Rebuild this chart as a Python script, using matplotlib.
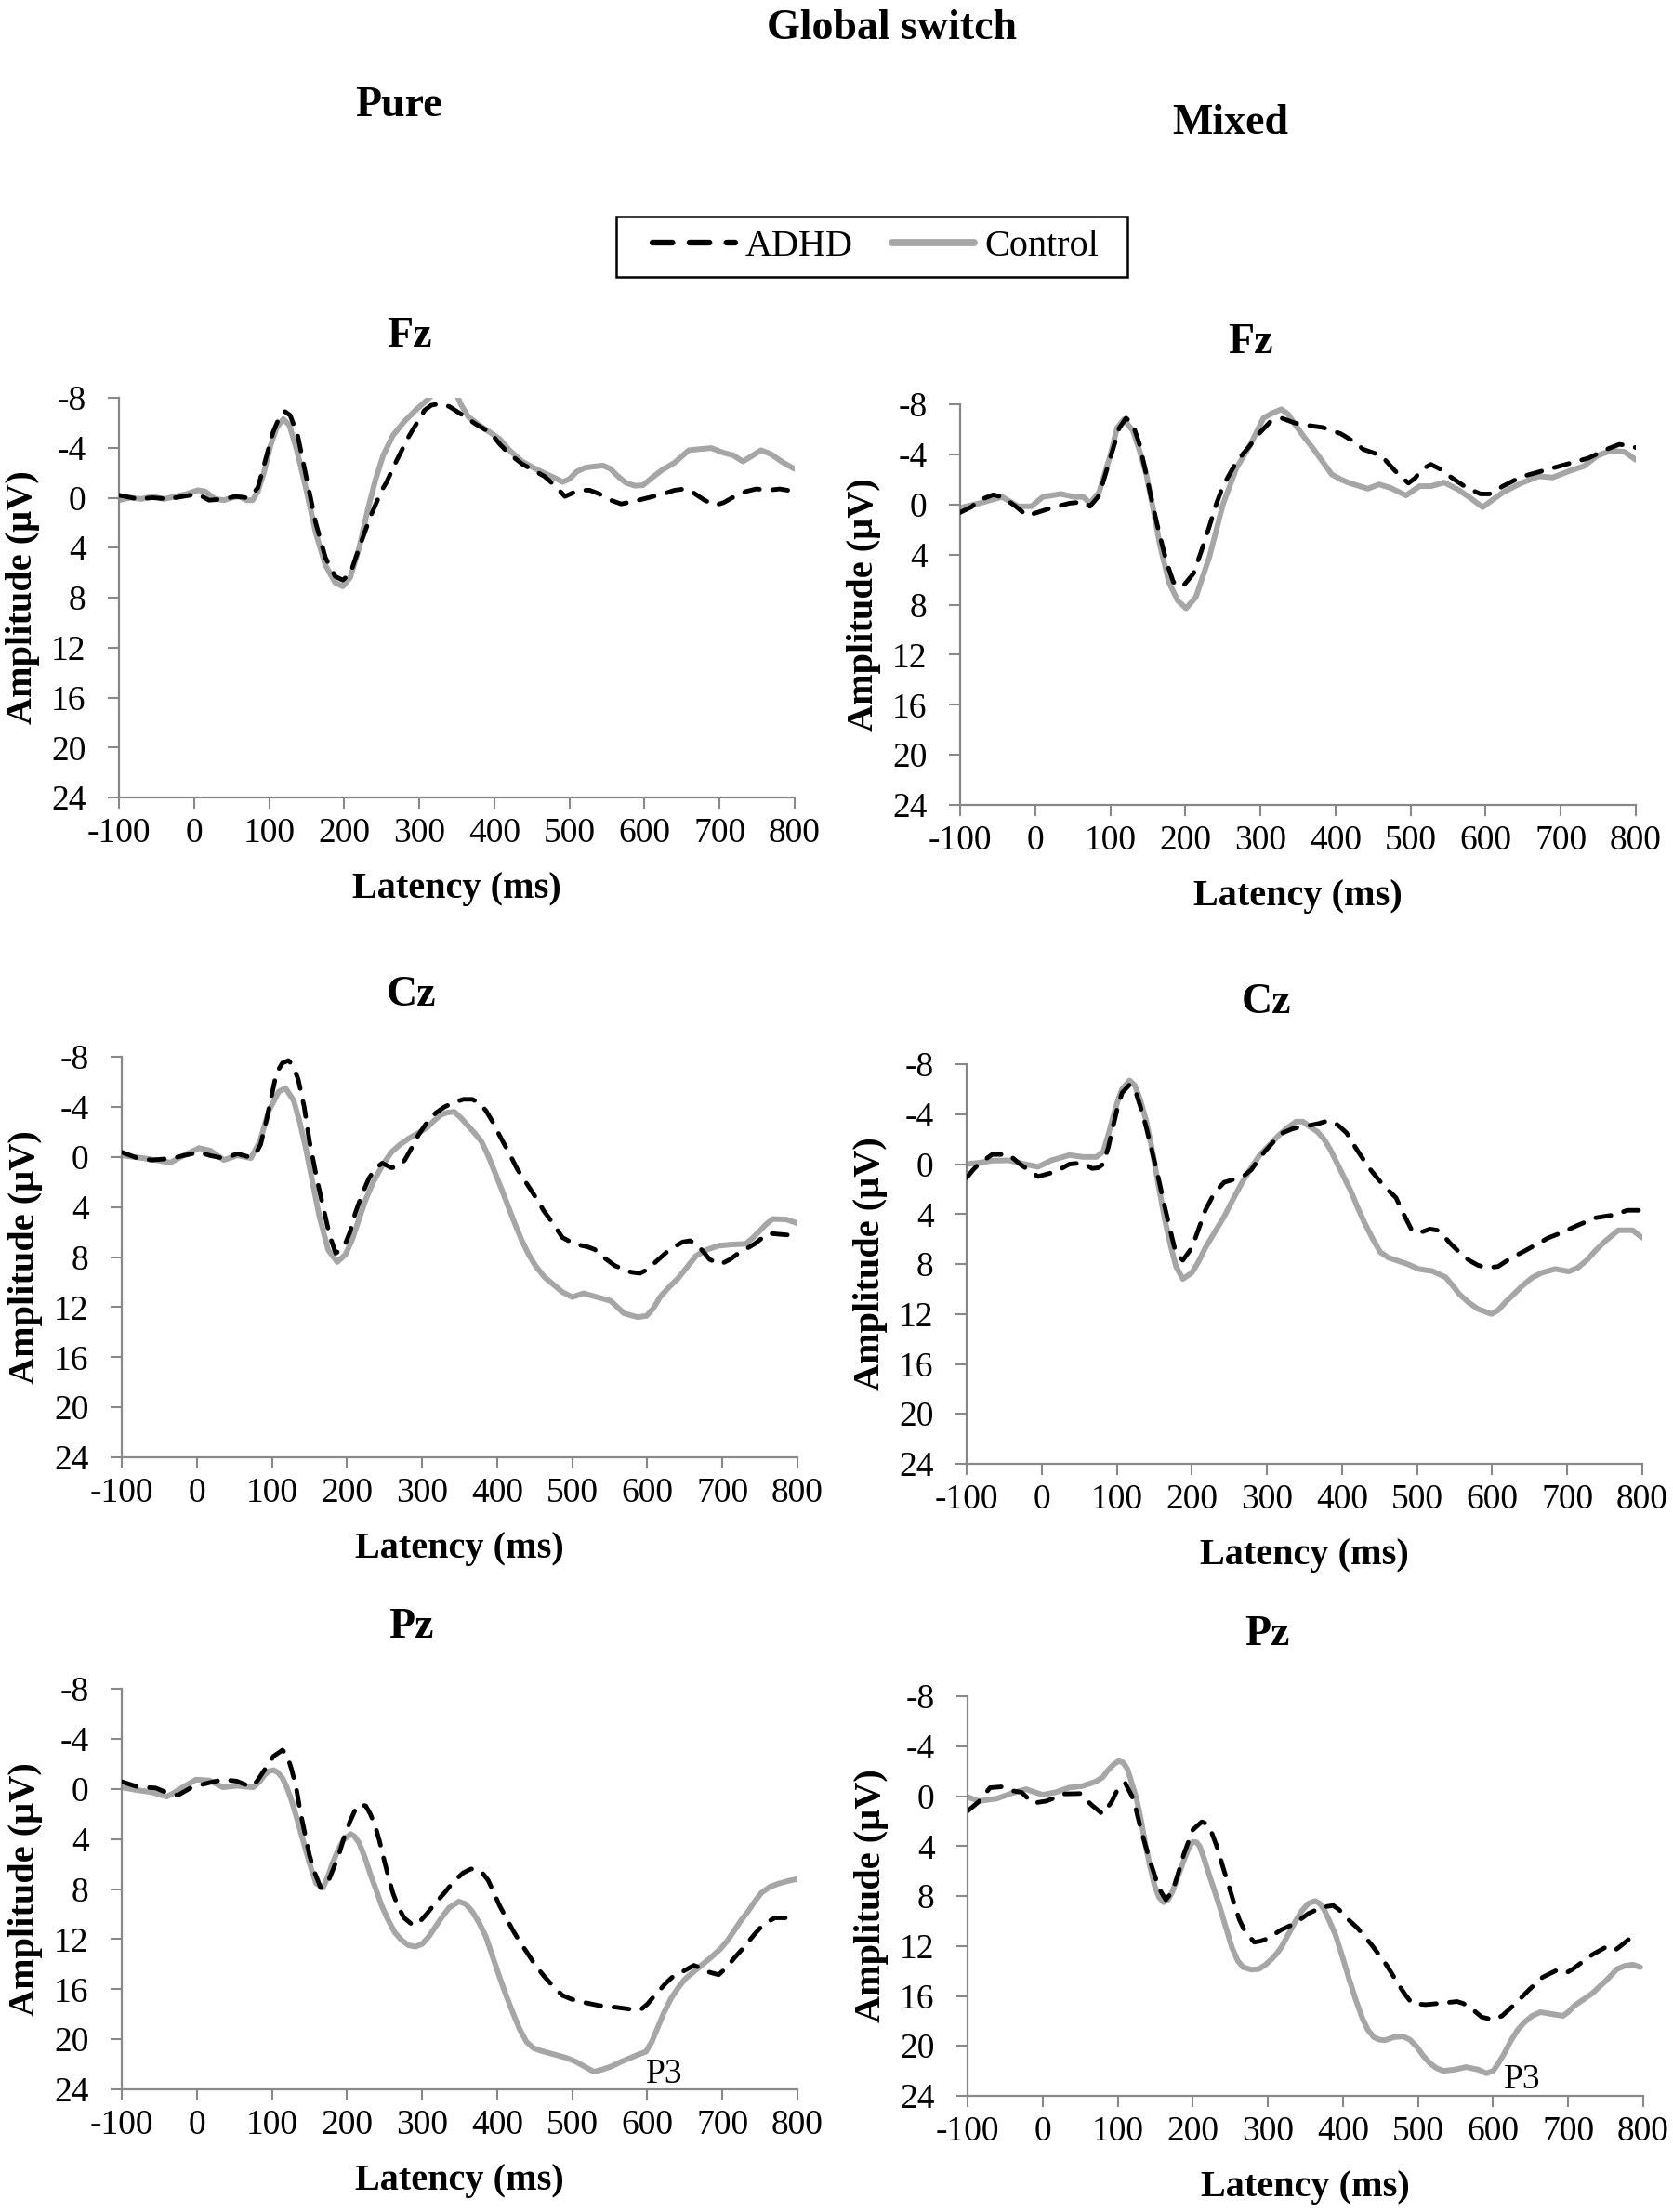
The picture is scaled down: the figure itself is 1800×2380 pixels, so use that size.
import matplotlib
matplotlib.use("Agg")
import matplotlib.pyplot as plt
from matplotlib.patches import Rectangle

plt.rcParams['font.family'] = ['Liberation Serif', 'DejaVu Serif']
plt.rcParams['axes.unicode_minus'] = False

# ---------------- data (latency ms, amplitude µV) ----------------
pure_fz_adhd_t = [-100, -75, -55, -35, -15, 5, 20, 40, 55, 70, 78, 85, 95, 105, 114, 121, 128, 138, 150, 162, 175, 188, 198, 208, 220, 235, 250, 256, 270, 286, 300, 307, 316, 325, 340, 358, 375, 395, 407, 420, 437, 452, 467, 480, 494, 505, 515, 527, 540, 555, 569, 585, 605, 625, 640, 653, 665, 680, 694, 705, 720, 735, 749, 765, 780, 800]
pure_fz_adhd_v = [-0.2, 0.1, 0.0, 0.1, -0.1, -0.3, 0.2, 0.1, -0.1, 0.0, -0.3, -0.8, -3.0, -5.2, -6.5, -6.9, -6.6, -5.0, -1.5, 2.0, 4.8, 6.3, 6.6, 6.1, 4.0, 1.5, -0.6, -1.2, -3.0, -4.9, -6.3, -7.0, -7.4, -7.5, -7.3, -6.6, -5.9, -5.2, -4.3, -3.5, -2.7, -2.2, -1.7, -1.0, -0.1, -0.4, -0.6, -0.6, -0.3, 0.2, 0.5, 0.3, 0.0, -0.3, -0.6, -0.7, -0.4, 0.2, 0.6, 0.4, -0.1, -0.5, -0.7, -0.6, -0.7, -0.5]
pure_fz_ctrl_t = [-100, -85, -70, -55, -40, -25, -10, 5, 15, 28, 40, 50, 60, 70, 78, 85, 93, 102, 110, 119, 127, 137, 150, 162, 175, 188, 198, 208, 220, 232, 242, 252, 265, 280, 295, 310, 320, 335, 348, 356, 365, 380, 395, 407, 420, 437, 452, 467, 480, 491, 500, 510, 521, 533, 545, 555, 563, 575, 587, 598, 610, 623, 640, 659, 675, 689, 705, 718, 731, 742, 755, 768, 785, 800]
pure_fz_ctrl_v = [0.2, 0.0, 0.1, -0.1, 0.1, -0.1, -0.3, -0.6, -0.5, 0.1, 0.2, 0.0, -0.1, 0.2, 0.2, -0.5, -2.0, -4.2, -5.6, -6.3, -5.8, -3.8, -0.5, 2.8, 5.4, 6.8, 7.1, 6.4, 4.0, 0.8, -1.5, -3.4, -5.0, -6.1, -7.0, -7.8, -8.4, -9.0, -8.5, -7.4, -6.5, -5.8, -5.2, -4.7, -3.8, -2.9, -2.4, -1.95, -1.6, -1.26, -1.5, -2.1, -2.4, -2.5, -2.57, -2.3, -1.8, -1.2, -0.96, -1.0, -1.6, -2.2, -2.8, -3.8, -3.9, -3.97, -3.6, -3.4, -2.9, -3.3, -3.8, -3.5, -2.8, -2.3]

mixed_fz_adhd_t = [-100, -85, -74, -56, -44, -26, -11, 5, 22, 46, 64, 73, 85, 100, 112, 121, 130, 139, 148, 157, 166, 175, 184, 196, 211, 222, 232, 241, 250, 268, 286, 298, 313, 328, 346, 365, 383, 407, 425, 437, 461, 479, 497, 506, 515, 527, 540, 551, 563, 575, 593, 605, 623, 647, 677, 707, 737, 761, 778, 790, 800]
mixed_fz_adhd_v = [0.64, 0.2, -0.35, -0.77, -0.6, 0.15, 0.9, 0.6, 0.27, -0.1, -0.2, 0.15, -0.7, -3.7, -6.1, -6.9, -6.4, -4.8, -2.4, 0.2, 2.5, 4.6, 6.2, 6.6, 5.5, 3.6, 1.75, 0.0, -1.46, -3.4, -4.7, -5.65, -6.6, -6.9, -6.5, -6.3, -6.15, -5.65, -5.0, -4.4, -3.9, -2.7, -1.7, -2.1, -2.8, -3.2, -2.8, -2.3, -1.8, -1.33, -0.84, -0.84, -1.46, -2.2, -2.7, -3.2, -3.7, -4.4, -4.8, -4.7, -4.54]
mixed_fz_ctrl_t = [-100, -74, -44, -23, -5, 10, 34, 52, 64, 73, 85, 100, 109, 118, 130, 139, 148, 157, 166, 178, 190, 201, 214, 232, 250, 268, 286, 304, 316, 328, 337, 346, 358, 371, 383, 395, 407, 419, 443, 458, 473, 494, 512, 527, 545, 563, 580, 596, 610, 623, 647, 671, 689, 713, 731, 749, 767, 785, 800]
mixed_fz_ctrl_v = [0.27, -0.1, -0.6, 0.15, 0.15, -0.6, -0.84, -0.6, -0.6, -0.1, -0.96, -3.9, -6.1, -6.8, -5.9, -4.3, -2.4, 0.3, 3.2, 6.2, 7.7, 8.3, 7.4, 4.2, 0.0, -2.9, -4.7, -6.9, -7.3, -7.6, -7.2, -6.4, -5.4, -4.4, -3.4, -2.4, -2.0, -1.7, -1.26, -1.6, -1.33, -0.72, -1.46, -1.46, -1.75, -1.2, -0.5, 0.22, -0.4, -0.96, -1.7, -2.25, -2.15, -2.7, -3.06, -3.9, -4.3, -4.2, -3.56]

pure_cz_adhd_t = [-100, -78, -60, -33, -18, 3, 18, 36, 54, 69, 78, 85, 93, 100, 106, 114, 122, 128, 135, 143, 150, 160, 169, 177, 185, 196, 204, 211, 220, 229, 238, 247, 259, 268, 277, 286, 295, 306, 318, 330, 343, 355, 367, 376, 385, 394, 403, 415, 427, 439, 451, 462, 473, 487, 503, 521, 530, 539, 557, 578, 590, 600, 611, 629, 647, 657, 665, 675, 683, 698, 710, 719, 743, 761, 779, 800]
pure_cz_adhd_v = [-0.37, 0.12, 0.25, 0.12, -0.1, -0.37, -0.1, 0.12, -0.25, 0.0, -0.2, -1.0, -3.0, -5.0, -6.7, -7.5, -7.7, -7.3, -6.2, -4.0, -1.24, 1.8, 4.2, 6.3, 7.7, 7.2, 6.0, 4.5, 3.0, 1.74, 0.9, 0.5, 0.87, 0.8, 0.25, -0.7, -1.74, -2.7, -3.5, -4.0, -4.35, -4.6, -4.6, -4.3, -3.7, -2.8, -1.74, -0.4, 1.0, 2.1, 3.2, 4.3, 5.2, 6.45, 6.95, 7.2, 7.4, 7.9, 8.7, 9.2, 9.3, 9.0, 8.4, 7.44, 6.8, 6.7, 6.95, 7.6, 8.2, 8.56, 8.2, 7.8, 6.95, 6.1, 6.2, 6.3]
pure_cz_ctrl_t = [-100, -78, -61, -35, -18, 3, 18, 36, 54, 72, 84, 96, 109, 118, 129, 137, 145, 154, 163, 175, 187, 198, 207, 216, 225, 235, 247, 259, 271, 283, 295, 307, 316, 325, 334, 343, 352, 361, 370, 379, 388, 397, 406, 415, 424, 433, 442, 451, 463, 475, 487, 500, 515, 533, 551, 560, 569, 587, 599, 608, 617, 629, 641, 653, 665, 680, 695, 713, 731, 740, 749, 758, 767, 785, 800]
pure_cz_ctrl_v = [-0.12, 0.05, 0.2, 0.45, -0.1, -0.7, -0.5, 0.25, -0.12, 0.1, -1.24, -3.7, -5.2, -5.5, -4.5, -2.8, -0.75, 2.0, 4.7, 7.44, 8.4, 7.8, 6.6, 4.96, 3.4, 2.0, 0.7, -0.37, -1.0, -1.5, -1.9, -2.36, -2.9, -3.35, -3.55, -3.6, -3.1, -2.5, -1.9, -1.24, -0.1, 1.24, 2.6, 4.0, 5.4, 6.7, 7.8, 8.7, 9.6, 10.2, 10.8, 11.2, 10.9, 11.2, 11.5, 12.0, 12.5, 12.8, 12.7, 12.1, 11.2, 10.4, 9.7, 8.8, 7.9, 7.4, 7.1, 7.0, 6.95, 6.5, 5.96, 5.4, 4.96, 5.0, 5.3]

mixed_cz_adhd_t = [-100, -92, -84, -66, -44, -29, -5, 19, 37, 55, 67, 75, 82, 89, 95, 101, 107, 117, 124, 131, 139, 146, 155, 164, 172, 179, 188, 200, 209, 218, 230, 243, 252, 261, 270, 279, 288, 297, 309, 321, 333, 345, 357, 369, 380, 388, 397, 406, 415, 424, 436, 448, 460, 472, 482, 493, 500, 508, 517, 527, 536, 545, 557, 569, 581, 593, 608, 618, 629, 645, 660, 675, 690, 714, 738, 762, 780, 800]
mixed_cz_adhd_v = [1.1, 0.5, 0.0, -0.77, -0.77, 0.0, 1.0, 0.6, 0.0, -0.1, 0.35, 0.3, 0.0, -1.4, -3.0, -4.5, -5.7, -6.35, -6.0, -4.7, -3.0, -1.27, 1.0, 3.45, 5.5, 7.2, 7.7, 6.7, 5.2, 3.7, 2.3, 1.46, 1.3, 1.1, 0.9, 0.47, -0.3, -1.0, -1.8, -2.5, -2.8, -3.0, -3.1, -3.25, -3.45, -3.4, -3.0, -2.5, -1.6, -0.77, 0.3, 1.2, 2.0, 2.7, 4.0, 5.3, 5.5, 5.4, 5.2, 5.3, 5.8, 6.4, 7.1, 7.7, 8.1, 8.3, 8.2, 7.8, 7.4, 6.9, 6.4, 5.9, 5.55, 4.9, 4.3, 4.07, 3.7, 3.7]
mixed_cz_ctrl_t = [-100, -84, -66, -44, -23, -5, 13, 37, 55, 73, 82, 88, 95, 101, 107, 117, 124, 131, 139, 146, 155, 164, 172, 179, 188, 200, 209, 218, 230, 243, 255, 267, 279, 291, 303, 315, 327, 339, 348, 357, 367, 376, 385, 394, 403, 412, 421, 430, 441, 451, 462, 472, 487, 502, 520, 538, 547, 556, 569, 581, 599, 608, 617, 629, 641, 653, 666, 684, 702, 714, 726, 738, 750, 768, 787, 800]
mixed_cz_ctrl_v = [0.0, -0.1, -0.27, -0.3, 0.0, 0.22, -0.3, -0.72, -0.57, -0.57, -1.0, -2.2, -3.75, -5.0, -6.0, -6.7, -6.3, -5.2, -3.5, -1.5, 1.5, 4.45, 6.6, 8.2, 9.2, 8.7, 7.8, 6.7, 5.5, 4.2, 2.8, 1.46, 0.3, -0.77, -1.5, -2.26, -2.9, -3.4, -3.4, -3.0, -2.6, -2.0, -1.1, 0.0, 1.1, 2.2, 3.5, 4.7, 6.0, 7.05, 7.5, 7.7, 8.0, 8.4, 8.56, 9.06, 9.7, 10.4, 11.1, 11.6, 12.0, 11.7, 11.1, 10.4, 9.7, 9.1, 8.7, 8.4, 8.6, 8.3, 7.7, 6.9, 6.2, 5.3, 5.3, 5.9]

pure_pz_adhd_t = [-100, -79, -55, -37, -25, -7, 17, 35, 53, 72, 80, 90, 102, 114, 120, 126, 132, 138, 144, 150, 157, 165, 174, 181, 189, 196, 204, 210, 216, 225, 231, 237, 243, 249, 255, 261, 268, 276, 288, 297, 306, 318, 330, 342, 355, 365, 373, 380, 388, 395, 403, 412, 421, 430, 439, 451, 463, 475, 487, 499, 511, 535, 559, 583, 592, 600, 607, 616, 625, 634, 644, 653, 662, 671, 680, 695, 705, 716, 725, 734, 743, 752, 761, 770, 780, 795]
pure_pz_adhd_v = [-0.57, -0.17, -0.07, 0.37, 0.5, -0.12, -0.5, -0.74, -0.62, -0.17, -0.6, -1.5, -2.6, -3.1, -2.7, -1.6, -0.2, 1.86, 3.6, 5.3, 6.7, 7.9, 7.55, 6.5, 5.3, 3.9, 2.6, 1.8, 1.24, 1.36, 2.0, 2.85, 4.1, 5.57, 7.0, 8.3, 9.4, 10.3, 10.9, 10.6, 10.0, 9.1, 8.3, 7.4, 6.7, 6.4, 6.4, 6.7, 7.3, 8.2, 9.3, 10.3, 11.3, 12.2, 13.0, 14.1, 15.0, 15.8, 16.5, 16.8, 17.0, 17.3, 17.45, 17.65, 17.6, 17.2, 16.7, 16.1, 15.5, 15.0, 14.7, 14.4, 14.1, 14.3, 14.6, 14.85, 14.3, 13.5, 12.9, 12.25, 11.6, 11.0, 10.6, 10.3, 10.3, 10.3]
pure_pz_ctrl_t = [-100, -80, -61, -40, -30, -19, -1, 17, 35, 53, 75, 84, 90, 96, 102, 108, 114, 120, 126, 132, 140, 147, 153, 159, 168, 174, 180, 188, 195, 205, 210, 216, 224, 231, 239, 246, 255, 264, 273, 282, 291, 300, 309, 318, 327, 336, 349, 358, 367, 376, 385, 394, 403, 412, 421, 430, 439, 448, 457, 469, 481, 493, 505, 517, 529, 541, 553, 565, 577, 589, 598, 606, 613, 622, 632, 641, 650, 662, 674, 686, 698, 707, 716, 725, 734, 743, 752, 764, 776, 788, 800]
pure_pz_ctrl_v = [-0.12, 0.1, 0.25, 0.62, 0.3, -0.12, -0.74, -0.67, -0.12, -0.25, -0.12, -0.6, -1.1, -1.4, -1.5, -1.3, -0.87, -0.1, 0.9, 2.1, 3.8, 5.3, 6.5, 7.55, 7.9, 7.1, 6.06, 4.9, 4.1, 3.6, 3.8, 4.3, 5.5, 6.8, 8.1, 9.3, 10.5, 11.5, 12.1, 12.5, 12.6, 12.4, 11.8, 11.0, 10.2, 9.5, 9.0, 9.2, 9.8, 10.7, 11.8, 13.4, 15.0, 16.5, 17.9, 19.2, 20.2, 20.7, 20.9, 21.1, 21.3, 21.5, 21.8, 22.2, 22.6, 22.4, 22.15, 21.8, 21.5, 21.2, 21.0, 20.2, 19.2, 17.9, 16.7, 15.9, 15.2, 14.6, 14.0, 13.4, 12.75, 12.1, 11.3, 10.5, 9.8, 9.0, 8.3, 7.8, 7.55, 7.35, 7.2]

mixed_pz_adhd_t = [-100, -85, -70, -55, -40, -28, -13, 5, 29, 50, 65, 80, 92, 101, 110, 119, 125, 131, 143, 155, 164, 173, 180, 188, 200, 212, 218, 225, 233, 240, 248, 255, 262, 270, 282, 291, 300, 318, 336, 354, 372, 387, 395, 402, 420, 438, 456, 465, 474, 483, 492, 510, 528, 552, 560, 570, 585, 600, 612, 630, 648, 666, 684, 696, 705, 714, 732, 750, 762, 770, 780, 795]
mixed_pz_adhd_v = [1.2, 0.45, -0.67, -0.74, -0.42, -0.3, 0.57, 0.4, -0.17, -0.2, 0.7, 1.44, 0.45, -0.67, -1.04, 0.0, 1.2, 2.7, 5.2, 7.4, 8.3, 7.64, 6.3, 4.67, 2.7, 2.06, 2.2, 2.9, 4.2, 5.66, 7.2, 8.6, 9.9, 10.9, 11.7, 11.6, 11.4, 10.7, 10.2, 9.4, 8.9, 8.76, 9.1, 9.6, 10.6, 11.9, 13.35, 14.2, 15.1, 15.9, 16.6, 16.7, 16.6, 16.45, 16.6, 16.95, 17.7, 17.9, 17.6, 16.6, 15.5, 14.5, 13.97, 14.2, 13.9, 13.5, 12.7, 12.1, 12.36, 12.0, 11.5, 11.2]
mixed_pz_ctrl_t = [-100, -85, -61, -40, -22, 0, 17, 35, 53, 71, 80, 86, 94, 101, 107, 113, 119, 125, 131, 137, 143, 149, 155, 161, 167, 173, 180, 188, 195, 200, 205, 209, 215, 221, 229, 237, 245, 252, 260, 267, 278, 288, 297, 306, 312, 318, 327, 336, 345, 354, 363, 369, 375, 382, 390, 399, 408, 417, 426, 433, 441, 448, 456, 468, 480, 489, 498, 507, 516, 525, 534, 549, 564, 580, 591, 600, 606, 615, 624, 633, 642, 652, 663, 678, 693, 700, 708, 720, 732, 741, 750, 758, 765, 775, 786, 796]
mixed_pz_ctrl_v = [0.07, 0.4, 0.2, -0.25, -0.55, -0.1, -0.3, -0.67, -0.8, -1.17, -1.5, -2.0, -2.5, -2.8, -2.7, -2.16, -1.0, 0.2, 1.9, 3.9, 5.6, 7.15, 8.1, 8.5, 8.3, 7.64, 6.5, 5.16, 4.1, 3.67, 3.7, 4.0, 5.0, 6.15, 7.6, 9.1, 10.7, 12.1, 13.2, 13.7, 13.9, 13.85, 13.5, 13.0, 12.6, 12.1, 11.1, 10.1, 9.2, 8.6, 8.4, 8.6, 9.1, 10.0, 11.1, 12.8, 14.6, 16.3, 17.8, 18.7, 19.3, 19.5, 19.55, 19.3, 19.25, 19.5, 20.05, 20.8, 21.4, 21.8, 22.0, 21.9, 21.7, 21.9, 22.2, 22.0, 21.5, 20.6, 19.55, 18.7, 18.1, 17.6, 17.3, 17.45, 17.6, 17.3, 16.8, 16.3, 15.8, 15.3, 14.8, 14.3, 13.85, 13.6, 13.5, 13.7]

x_ticks = [-100, 0, 100, 200, 300, 400, 500, 600, 700, 800]
y_ticks = [-8, -4, 0, 4, 8, 12, 16, 20, 24]
group_labels = ['ADHD', 'Control']
column_titles = ['Pure', 'Mixed']
electrodes = ['Fz', 'Cz', 'Pz']
main_title = 'Global switch'

# ---------------- layout ----------------
W, H = 1800, 2380
fig = plt.figure(figsize=(W / 100, H / 100), dpi=100)

GRAY_LINE = '#a6a6a6'
SPINE = '#888888'

# pixel boxes: (left, top, right, bottom)
boxes = {
    (0, 0): (128, 428, 855, 858),
    (0, 1): (1033, 435, 1760, 866),
    (1, 0): (131, 1137, 858, 1568),
    (1, 1): (1040, 1145, 1767, 1575),
    (2, 0): (131, 1817, 858, 2248),
    (2, 1): (1041, 1825, 1768, 2255),
}
title_x = {(0, 0): 0.43, (0, 1): 0.43, (1, 0): 0.428, (1, 1): 0.443, (2, 0): 0.428, (2, 1): 0.443}

series = {
    (0, 0): (pure_fz_adhd_t, pure_fz_adhd_v, pure_fz_ctrl_t, pure_fz_ctrl_v),
    (0, 1): (mixed_fz_adhd_t, mixed_fz_adhd_v, mixed_fz_ctrl_t, mixed_fz_ctrl_v),
    (1, 0): (pure_cz_adhd_t, pure_cz_adhd_v, pure_cz_ctrl_t, pure_cz_ctrl_v),
    (1, 1): (mixed_cz_adhd_t, mixed_cz_adhd_v, mixed_cz_ctrl_t, mixed_cz_ctrl_v),
    (2, 0): (pure_pz_adhd_t, pure_pz_adhd_v, pure_pz_ctrl_t, pure_pz_ctrl_v),
    (2, 1): (mixed_pz_adhd_t, mixed_pz_adhd_v, mixed_pz_ctrl_t, mixed_pz_ctrl_v),
}
p3_pos = {(2, 0): (598, 23.45), (2, 1): (614, 23.4)}

handles = None
for (r, c), (l, t, rr, b) in boxes.items():
    ax = fig.add_axes([l / W, 1 - b / H, (rr - l) / W, (b - t) / H])
    at, av, ct, cv = series[(r, c)]
    h2, = ax.plot(ct, cv, color=GRAY_LINE, lw=4.3, solid_capstyle='round',
                  solid_joinstyle='round', label=group_labels[1], zorder=2)
    h1, = ax.plot(at, av, color='black', lw=3.5, dashes=(3.4, 2.9),
                  dash_capstyle='round', dash_joinstyle='round',
                  label=group_labels[0], zorder=3)
    if handles is None:
        handles = [h1, h2]
    ax.set_xlim(-100, 800)
    ax.set_ylim(24, -8)
    ax.set_xticks(x_ticks)
    ax.set_yticks(y_ticks)
    for s in ['top', 'right']:
        ax.spines[s].set_visible(False)
    for s in ['left', 'bottom']:
        ax.spines[s].set_color(SPINE)
        ax.spines[s].set_linewidth(1.6)
    ax.tick_params(axis='both', direction='out', length=8.5, width=1.5,
                   color=SPINE, labelsize=27, labelcolor='black')
    ax.tick_params(axis='x', pad=7)
    ax.tick_params(axis='y', pad=17)
    ax.text(title_x[(r, c)], 1.128, electrodes[r], transform=ax.transAxes,
            ha='center', va='baseline', fontsize=33, fontweight='bold')
    ax.text(0.5, -0.251, 'Latency (ms)', transform=ax.transAxes,
            ha='center', va='baseline', fontsize=29, fontweight='bold')
    ax.text(-0.143, 0.5, 'Amplitude (µV)', transform=ax.transAxes,
            ha='center', va='center', rotation=90, fontsize=29, fontweight='bold')
    if (r, c) in p3_pos:
        px, py = p3_pos[(r, c)]
        ax.text(px, py, 'P3', ha='left', va='baseline', fontsize=27)

fig.text(960 / W, 1 - 42 / H, main_title, ha='center', va='baseline',
         fontsize=33, fontweight='bold')
fig.text(429 / W, 1 - 125 / H, column_titles[0], ha='center', va='baseline',
         fontsize=33, fontweight='bold')
fig.text(1324 / W, 1 - 144 / H, column_titles[1], ha='center', va='baseline',
         fontsize=33, fontweight='bold')

# legend (frameless content) + its rectangular box
leg = fig.legend(handles=handles, labels=group_labels, ncol=2,
                 loc='center', bbox_to_anchor=(942 / W, 1 - 265.5 / H),
                 fontsize=29, frameon=False,
                 handlelength=2.2, handletextpad=0.27, columnspacing=1.05,
                 borderpad=0.0, borderaxespad=0.0)
for ln in leg.get_lines():
    ln.set_linewidth(ln.get_linewidth() * 1.3)
fig.patches.append(Rectangle((663 / W, 1 - 298 / H), 550 / W, 65 / H,
                             transform=fig.transFigure, fill=False,
                             edgecolor='black', linewidth=1.8, zorder=5))

fig.savefig('out.png', dpi=100, facecolor='white')
